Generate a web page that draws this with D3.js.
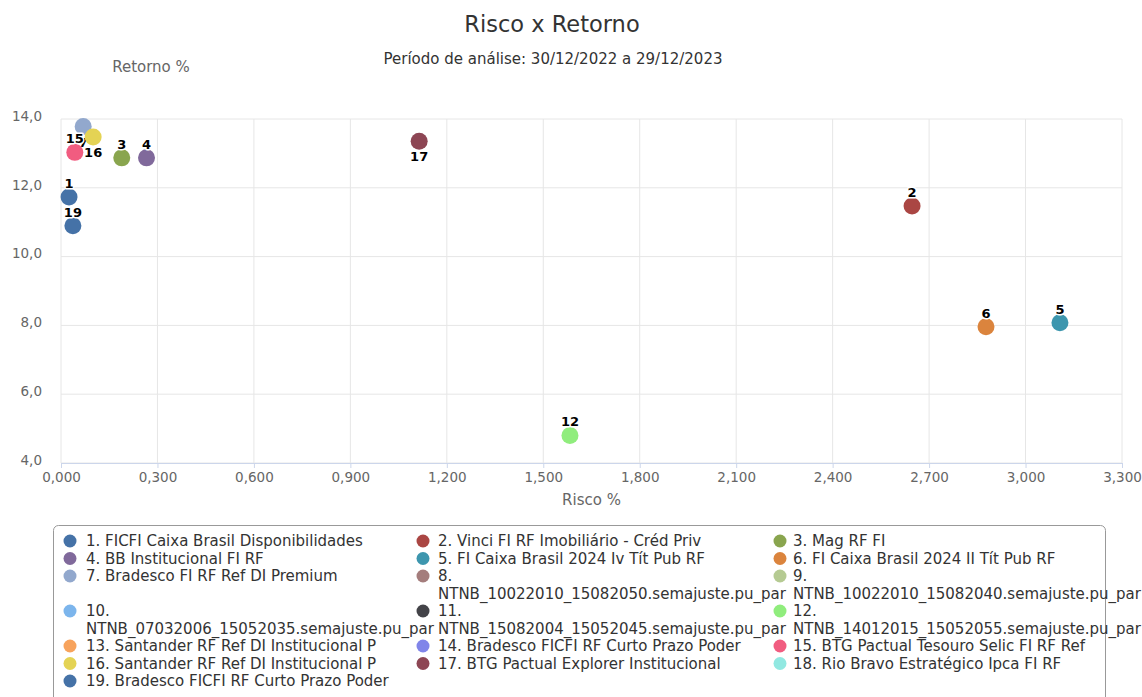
<!DOCTYPE html>
<html>
<head>
<meta charset="utf-8">
<script src="https://cdn.jsdelivr.net/npm/d3@7"></script>
<style>
  body { margin: 0; background: #fff; }
  svg { font-family: "DejaVu Sans", sans-serif; }
</style>
</head>
<body>
<div id="chart"></div>
<script>
// DATA ------------------------------------------------------------------
const seriesNames = [
  "1. FICFI Caixa Brasil Disponibilidades",
  "2. Vinci FI RF Imobiliário - Créd Priv",
  "3. Mag RF FI",
  "4. BB Institucional FI RF",
  "5. FI Caixa Brasil 2024 Iv Tít Pub RF",
  "6. FI Caixa Brasil 2024 II Tít Pub RF",
  "7. Bradesco FI RF Ref DI Premium",
  "8. NTNB_10022010_15082050.semajuste.pu_par",
  "9. NTNB_10022010_15082040.semajuste.pu_par",
  "10. NTNB_07032006_15052035.semajuste.pu_par",
  "11. NTNB_15082004_15052045.semajuste.pu_par",
  "12. NTNB_14012015_15052055.semajuste.pu_par",
  "13. Santander RF Ref DI Institucional P",
  "14. Bradesco FICFI RF Curto Prazo Poder",
  "15. BTG Pactual Tesouro Selic FI RF Ref",
  "16. Santander RF Ref DI Institucional P",
  "17. BTG Pactual Explorer Institucional",
  "18. Rio Bravo Estratégico Ipca FI RF",
  "19. Bradesco FICFI RF Curto Prazo Poder"
];
// risco % (x) and retorno % (y); null = no point drawn
const risco   = [0.025, 2.647, 0.189, 0.266, 3.107, 2.877, 0.069, null, null, null, null, 1.583, null, null, 0.043, 0.100, 1.114, null, 0.037];
const retorno = [11.73, 11.47, 12.87, 12.87, 8.08, 7.96, 13.78, null, null, null, null, 4.80, null, null, 13.03, 13.48, 13.35, null, 10.90];
const colors = ["#4572a7", "#aa4643", "#89a54e", "#80699b", "#3d96ae", "#db843d", "#92a8cd", "#a47d7c", "#b5ca92",
  "#7cb5ec", "#434348", "#90ed7d", "#f7a35c", "#8085e9", "#f15c80", "#e4d354", "#8d4654", "#91e8e1", "#4572a7"];
const xTickValues = [0, 0.3, 0.6, 0.9, 1.2, 1.5, 1.8, 2.1, 2.4, 2.7, 3.0, 3.3];
const yTickValues = [4, 6, 8, 10, 12, 14];

// CHART INIT ------------------------------------------------------------
const width = 1142, height = 697;
const plot = {left: 61, right: 1122, top: 119, bottom: 463};

const svg = d3.select('#chart')
  .append('svg')
  .attr('width', width)
  .attr('height', height);

const ptBR = d3.formatLocale({decimal: ",", thousands: ".", grouping: [3], currency: ["R$", ""]});

const xScale = d3.scaleLinear().domain([0, 3.3]).range([plot.left, plot.right]);
const yScale = d3.scaleLinear().domain([4, 14]).range([plot.bottom, plot.top]);

// title + subtitle
svg.append('text')
  .attr('x', 552).attr('y', 32)
  .attr('text-anchor', 'middle')
  .attr('font-size', 22.5).attr('fill', '#333')
  .text('Risco x Retorno');

svg.append('text')
  .attr('x', 553).attr('y', 64)
  .attr('text-anchor', 'middle')
  .attr('font-size', 15).attr('fill', '#333')
  .text('Período de análise: 30/12/2022 a 29/12/2023');

// gridlines
svg.append('g')
  .selectAll('line')
  .data(xTickValues)
  .join('line')
  .attr('x1', d => xScale(d)).attr('x2', d => xScale(d))
  .attr('y1', plot.top).attr('y2', plot.bottom)
  .attr('stroke', '#e6e6e6');

svg.append('g')
  .selectAll('line')
  .data(yTickValues)
  .join('line')
  .attr('x1', plot.left).attr('x2', plot.right)
  .attr('y1', d => yScale(d)).attr('y2', d => yScale(d))
  .attr('stroke', '#e6e6e6');

// axes
const xAxis = d3.axisBottom(xScale)
  .tickValues(xTickValues)
  .tickFormat(ptBR.format('.3f'))
  .tickSize(5).tickPadding(4);

const gx = svg.append('g')
  .attr('transform', 'translate(0,' + plot.bottom + ')')
  .call(xAxis);
gx.select('.domain').attr('stroke', '#ccd6eb');
gx.selectAll('.tick line').attr('stroke', '#ccd6eb');
gx.selectAll('.tick text').attr('fill', '#666').attr('font-size', 13.5).attr('font-family', 'DejaVu Sans');

const yAxis = d3.axisLeft(yScale)
  .tickValues(yTickValues)
  .tickFormat(ptBR.format('.1f'))
  .tickSize(0).tickPadding(19);

const gy = svg.append('g')
  .attr('transform', 'translate(' + plot.left + ',0)')
  .call(yAxis);
gy.select('.domain').remove();
gy.selectAll('.tick text').attr('fill', '#666').attr('font-size', 13.5).attr('font-family', 'DejaVu Sans')
  .attr('dy', '0.1em');

// axis titles
svg.append('text')
  .attr('x', 151).attr('y', 72)
  .attr('text-anchor', 'middle')
  .attr('font-size', 15).attr('fill', '#666')
  .text('Retorno %');

svg.append('text')
  .attr('x', (plot.left + plot.right) / 2).attr('y', 505)
  .attr('text-anchor', 'middle')
  .attr('font-size', 15).attr('fill', '#666')
  .text('Risco %');

// POINTS ----------------------------------------------------------------
const points = seriesNames.map((name, i) => ({
  id: i + 1, name, x: risco[i], y: retorno[i], color: colors[i]
})).filter(d => d.x !== null && d.y !== null);

// labels that would collide sit under their point
const labelBelow = new Set([7, 16, 17]);

// one group per series, marker then label, in series order
const pointGroups = svg.append('g')
  .selectAll('g')
  .data(points)
  .join('g');

pointGroups.append('circle')
  .attr('cx', d => xScale(d.x))
  .attr('cy', d => yScale(d.y))
  .attr('r', 8.5)
  .attr('fill', d => d.color);

pointGroups.append('text')
  .attr('x', d => xScale(d.x))
  .attr('y', d => yScale(d.y) + (labelBelow.has(d.id) ? 20 : -9))
  .attr('text-anchor', 'middle')
  .attr('font-size', 13).attr('font-weight', 'bold')
  .attr('fill', '#000')
  .attr('stroke', '#fff').attr('stroke-width', 3)
  .attr('stroke-linejoin', 'round')
  .attr('paint-order', 'stroke')
  .text(d => d.id);

// LEGEND ----------------------------------------------------------------
const legend = svg.append('g');
legend.append('rect')
  .attr('x', 53.5).attr('y', 525.5)
  .attr('width', 1052).attr('height', 190)
  .attr('rx', 5)
  .attr('fill', '#fff').attr('stroke', '#999');

const colX = [70, 423, 780];
const textX = [86, 438, 793];
const lineH = 17.5;
let rowY = 541;
for (let r = 0; r < Math.ceil(seriesNames.length / 3); r++) {
  let maxLines = 1;
  for (let c = 0; c < 3; c++) {
    const i = r * 3 + c;
    if (i >= seriesNames.length) break;
    const name = seriesNames[i];
    // long NTNB names wrap after the number
    const lines = name.length > 40 ? [name.split(' ')[0], name.split(' ').slice(1).join(' ')] : [name];
    maxLines = Math.max(maxLines, lines.length);
    legend.append('circle')
      .attr('cx', colX[c]).attr('cy', rowY)
      .attr('r', 6.5)
      .attr('fill', colors[i]);
    const t = legend.append('text')
      .attr('x', textX[c]).attr('y', rowY)
      .attr('font-size', 15).attr('fill', '#333');
    lines.forEach((ln, k) => {
      t.append('tspan')
        .attr('x', textX[c])
        .attr('dy', k === 0 ? '0.35em' : lineH)
        .text(ln);
    });
  }
  rowY += maxLines * lineH;
}
</script>
</body>
</html>
